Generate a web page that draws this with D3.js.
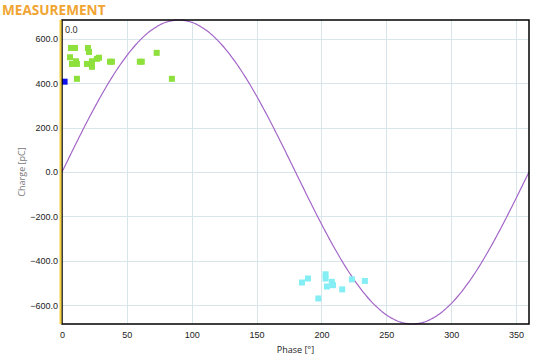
<!DOCTYPE html>
<html>
<head>
<meta charset="utf-8">
<script src="https://cdn.jsdelivr.net/npm/d3@7"></script>
<style>
  body { margin: 0; background: #fff; }
  svg { font-family: "Open Sans", "DejaVu Sans", sans-serif; }
</style>
</head>
<body>
<svg id="chart" width="548" height="362"></svg>
<script>
// phase [deg], charge [pC]
const greenPoints = [
  [6.9, 559], [10.0, 559], [20.0, 559], [20.8, 541], [6.2, 517], [10.8, 499],
  [7.7, 487], [11.5, 487], [19.2, 487], [23.1, 499], [23.1, 474], [26.9, 510],
  [28.5, 515], [37.0, 497], [38.5, 497], [60.0, 497], [61.5, 497], [73.0, 537],
  [11.5, 420], [84.7, 420]
];
const cyanPoints = [
  [185.0, -498], [189.6, -480], [203.2, -461], [203.2, -480], [204.2, -516],
  [208.0, -495], [208.9, -510], [197.6, -570], [216.0, -529], [223.5, -484],
  [233.5, -491]
];
const bluePoints = [[2.0, 407]];
const xTicks = [0, 50, 100, 150, 200, 250, 300, 350];
const yTicks = [-600, -400, -200, 0, 200, 400, 600];
const amplitude = 685;
const phaseSamples = d3.range(0, 361, 1);

const width = 548, height = 362;
const margin = { top: 20, right: 19, bottom: 38, left: 62 };
const svg = d3.select("#chart");

const x = d3.scaleLinear().domain([0, 360]).range([margin.left, width - margin.right]);
const y = d3.scaleLinear().domain([-amplitude, amplitude]).range([height - margin.bottom, margin.top]);

// grid
svg.append("g")
  .selectAll("line")
  .data(xTicks.filter(d => d > 0))
  .join("line")
  .attr("x1", d => Math.round(x(d)) + 0.5).attr("x2", d => Math.round(x(d)) + 0.5)
  .attr("y1", margin.top).attr("y2", height - margin.bottom)
  .attr("stroke", "#d8e6ec").attr("stroke-width", 1);
svg.append("g")
  .selectAll("line")
  .data(yTicks)
  .join("line")
  .attr("x1", margin.left).attr("x2", width - margin.right)
  .attr("y1", d => Math.round(y(d)) + 0.5).attr("y2", d => Math.round(y(d)) + 0.5)
  .attr("stroke", "#d8e6ec").attr("stroke-width", 1);

// sine reference
const line = d3.line()
  .x(d => x(d))
  .y(d => y(amplitude * Math.sin(d * Math.PI / 180)))
  .curve(d3.curveMonotoneX);
svg.append("path")
  .datum(phaseSamples)
  .attr("d", line)
  .attr("fill", "none")
  .attr("stroke", "#a366c8")
  .attr("stroke-width", 1.2);

// points
const sq = 6;
function drawSquares(data, color) {
  svg.append("g")
    .selectAll("rect")
    .data(data)
    .join("rect")
    .attr("x", d => x(d[0]) - sq / 2)
    .attr("y", d => y(d[1]) - sq / 2)
    .attr("width", sq).attr("height", sq)
    .attr("fill", color);
}
drawSquares(greenPoints, "#8ee03c");
drawSquares(cyanPoints, "#84eef4");
drawSquares(bluePoints, "#1010e8");

// frame
svg.append("rect")
  .attr("x", margin.left).attr("y", margin.top)
  .attr("width", width - margin.right - margin.left)
  .attr("height", height - margin.bottom - margin.top)
  .attr("fill", "none").attr("stroke", "#000").attr("stroke-width", 1.5);
svg.append("line")
  .attr("x1", margin.left - 1.5).attr("x2", margin.left - 1.5)
  .attr("y1", margin.top).attr("y2", height - margin.bottom)
  .attr("stroke", "#f5d040").attr("stroke-width", 2);

// axes
const xAxis = d3.axisBottom(x).tickValues(xTicks).tickSize(0).tickPadding(8);
svg.append("g")
  .attr("transform", `translate(0,${height - margin.bottom})`)
  .call(xAxis)
  .call(g => g.select(".domain").remove())
  .selectAll("text").attr("font-size", 9).attr("fill", "#222");

const yAxis = d3.axisLeft(y).tickValues(yTicks).tickFormat(d3.format(".1f")).tickSize(0).tickPadding(4);
svg.append("g")
  .attr("transform", `translate(${margin.left},0)`)
  .call(yAxis)
  .call(g => g.select(".domain").remove())
  .selectAll("text").attr("font-size", 9).attr("fill", "#222");

// labels
svg.append("text")
  .attr("x", 2).attr("y", 15)
  .attr("font-size", 13.6).attr("font-weight", "bold")
  .attr("fill", "#f0a432")
  .text("MEASUREMENT");

svg.append("text")
  .attr("x", 65).attr("y", 33)
  .attr("font-size", 9).attr("fill", "#222")
  .text("0.0");

svg.append("text")
  .attr("transform", `translate(25,${(margin.top + height - margin.bottom) / 2}) rotate(-90)`)
  .attr("text-anchor", "middle")
  .attr("font-size", 9).attr("fill", "#777")
  .text("Charge [pC]");

svg.append("text")
  .attr("x", (margin.left + width - margin.right) / 2).attr("y", 353)
  .attr("text-anchor", "middle")
  .attr("font-size", 9).attr("fill", "#222")
  .text("Phase [°]");
</script>
</body>
</html>
